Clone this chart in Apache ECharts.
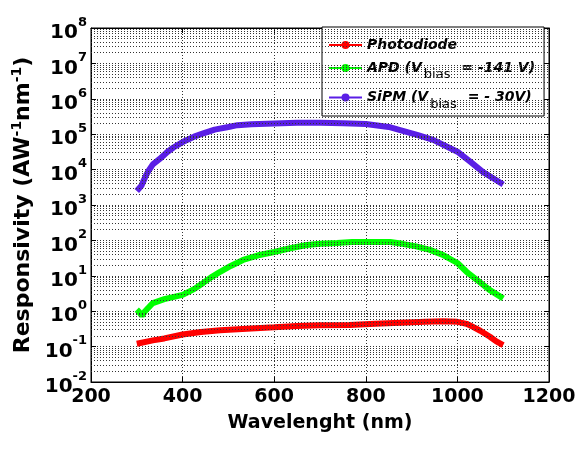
<!DOCTYPE html>
<html>
<head>
<meta charset="utf-8">
<script src="https://cdn.jsdelivr.net/npm/echarts@6/dist/echarts.min.js"></script>
<style>
html,body{margin:0;padding:0;background:#fff;}
#chart{width:582px;height:451px;}
</style>
</head>
<body>
<div id="chart"></div>
<script>
// Wavelengths (nm) and responsivity values (A W^-1 nm^-1)
var pdWave = [300, 335, 360, 400, 440, 482, 540, 600, 650, 700, 765, 820, 875, 930, 969, 1000, 1020, 1034, 1050, 1071, 1085, 1100];
var pdResp = [0.12, 0.15, 0.17, 0.22, 0.26, 0.29, 0.32, 0.35, 0.38, 0.40, 0.41, 0.44, 0.47, 0.50, 0.52, 0.50, 0.44, 0.36, 0.28, 0.19, 0.14, 0.11];

var apdWave = [300, 305, 311, 318, 335, 360, 400, 425, 445, 465, 482, 505, 532, 565, 600, 635, 671, 700, 737, 770, 800, 853, 880, 910, 940, 970, 1000, 1020, 1043, 1070, 1100];
var apdResp = [1.1, 0.95, 0.75, 1.0, 1.7, 2.2, 2.9, 4.2, 6.3, 9.5, 13, 19, 28, 38, 47, 60, 74, 80, 85, 90, 90, 90, 80, 68, 54, 38, 23, 13, 7.6, 4.0, 2.3];

var sipmWave = [300, 310, 318, 325, 335, 350, 366, 380, 400, 425, 445, 470, 500, 520, 550, 600, 650, 700, 750, 800, 850, 875, 912, 947, 1000, 1030, 1056, 1080, 1100];
var sipmResp = [2500, 3500, 6000, 9000, 14000, 20000, 31000, 42000, 60000, 85000, 105000, 135000, 160000, 180000, 190000, 200000, 210000, 210000, 205000, 195000, 160000, 130000, 95000, 69000, 32000, 16000, 8500, 5500, 3800];

var seriesNames = ['Photodiode', 'APD', 'SiPM'];
var legendLabels = {
  'Photodiode': 'Photodiode',
  'APD': 'APD (V{sub|bias} = -141 V)',
  'SiPM': 'SiPM (V{sub|bias} = - 30V)'
};
var colors = ['#ff0000', '#00ff00', '#5a1ee6'];

var xTicks = {min: 200, max: 1200, interval: 200};
var yMinExp = -2, yMaxExp = 8;

function zip(a, b) { return a.map(function (v, i) { return [v, b[i]]; }); }

// minor log grid values 2..9 x 10^n
var minorVals = [];
for (var e = yMinExp; e < yMaxExp; e++) {
  for (var k = 2; k <= 9; k++) minorVals.push({yAxis: k * Math.pow(10, e)});
}

var FONT = 'DejaVu Sans';
var dotted = {type: [1, 2], color: '#333', width: 1};

var chart = echarts.init(document.getElementById('chart'), null, {renderer: 'canvas'});
var option = {
  animation: false,
  backgroundColor: '#fff',
  grid: {left: 91, right: 33, top: 28, bottom: 69, show: true, borderColor: '#000', borderWidth: 1, backgroundColor: 'transparent'},
  xAxis: [{
    type: 'value', min: xTicks.min, max: xTicks.max, interval: xTicks.interval,
    name: 'Wavelenght (nm)', nameLocation: 'middle', nameGap: 32,
    nameTextStyle: {fontFamily: FONT, fontWeight: 'bold', fontSize: 19, color: '#000'},
    axisLine: {show: true, lineStyle: {color: '#000'}},
    axisTick: {show: true, inside: true, length: 5, lineStyle: {color: '#000'}},
    axisLabel: {fontFamily: FONT, fontWeight: 'bold', fontSize: 19, color: '#000', margin: 6,
      formatter: function (v) { return String(v); }},
    splitLine: {show: true, lineStyle: dotted}
  }, {
    type: 'value', position: 'top', min: xTicks.min, max: xTicks.max, interval: xTicks.interval,
    axisLine: {show: true, lineStyle: {color: '#000'}},
    axisTick: {show: true, inside: true, length: 5, lineStyle: {color: '#000'}},
    axisLabel: {show: false}, splitLine: {show: false}
  }],
  yAxis: [{
    type: 'log', logBase: 10, min: Math.pow(10, yMinExp), max: Math.pow(10, yMaxExp), interval: 1,
    name: 'Responsivity (AW{s|-1}nm{s|-1})', nameLocation: 'middle', nameGap: 47,
    nameTextStyle: {fontFamily: FONT, fontWeight: 'bold', fontSize: 22, color: '#000',
      rich: {s: {fontFamily: FONT, fontWeight: 'bold', fontSize: 14, color: '#000', verticalAlign: 'bottom', padding: [0, 0, 11, 0]}}},
    axisLine: {show: true, lineStyle: {color: '#000'}},
    axisTick: {show: true, inside: true, length: 5, lineStyle: {color: '#000'}},
    axisLabel: {
      margin: 4, hideOverlap: false, showMinLabel: true, showMaxLabel: true,
      formatter: function (v) { return '{b|10}{s|' + Math.round(Math.log10(v)) + '}'; },
      rich: {
        b: {fontFamily: FONT, fontWeight: 'bold', fontSize: 20, color: '#000', verticalAlign: 'bottom', padding: [10, 0, 0, 0]},
        s: {fontFamily: FONT, fontWeight: 'bold', fontSize: 13, color: '#000', verticalAlign: 'bottom', padding: [0, 0, 14, 0]}
      }
    },
    splitLine: {show: true, lineStyle: dotted}
  }, {
    type: 'log', logBase: 10, position: 'right', min: Math.pow(10, yMinExp), max: Math.pow(10, yMaxExp), interval: 1,
    axisLine: {show: true, lineStyle: {color: '#000'}},
    axisTick: {show: true, inside: true, length: 5, lineStyle: {color: '#000'}},
    axisLabel: {show: false}, splitLine: {show: false}
  }],
  legend: {
    orient: 'vertical', left: 322, top: 27,
    data: seriesNames,
    backgroundColor: '#fff', borderColor: '#000', borderWidth: 1,
    padding: [11, 9, 5, 6], itemGap: 9, itemWidth: 33, itemHeight: 10,
    formatter: function (n) { return legendLabels[n]; },
    textStyle: {fontFamily: FONT, fontWeight: 'bold', fontStyle: 'italic', fontSize: 14, color: '#000',
      rich: {sub: {fontFamily: FONT, fontWeight: 'normal', fontStyle: 'normal', fontSize: 13, color: '#000', verticalAlign: 'top', padding: [14, 6, 0, 2]}}}
  },
  series: [
    {name: 'Photodiode', type: 'line', data: zip(pdWave, pdResp), color: colors[0], symbol: 'circle', symbolSize: 7, showSymbol: false, lineStyle: {width: 6}, z: 3},
    {name: 'APD', type: 'line', data: zip(apdWave, apdResp), color: colors[1], symbol: 'circle', symbolSize: 7, showSymbol: false, lineStyle: {width: 6}, z: 3},
    {name: 'SiPM', type: 'line', data: zip(sipmWave, sipmResp), color: colors[2], symbol: 'circle', symbolSize: 7, showSymbol: false, lineStyle: {width: 6}, z: 3},
    {name: 'minorGrid', type: 'line', data: [], silent: true, z: 1,
      markLine: {silent: true, symbol: 'none', label: {show: false}, lineStyle: dotted, animation: false, data: minorVals}}
  ]
};
chart.setOption(option);
</script>
</body>
</html>
